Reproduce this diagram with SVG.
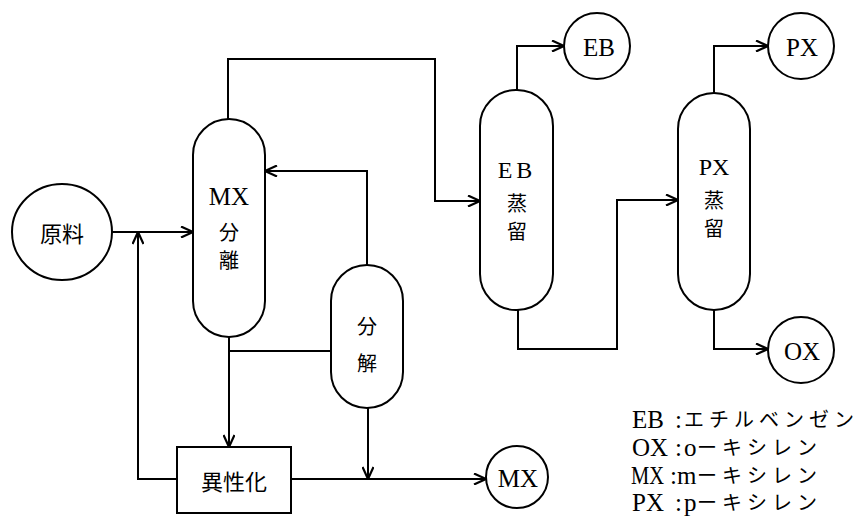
<svg xmlns="http://www.w3.org/2000/svg" width="863" height="529" viewBox="0 0 863 529">
<defs>
<style>
.sh{fill:#fff;stroke:#000;stroke-width:2}
.ln{fill:none;stroke:#000;stroke-width:2}
.ar{marker-end:url(#ah)}
.lat{font-family:"Liberation Serif","Noto Sans CJK JP",serif;fill:#000;text-anchor:middle;dominant-baseline:central}
.jp{font-family:"Noto Sans CJK JP",sans-serif;fill:#000;text-anchor:middle;dominant-baseline:central}
.lg{font-family:"Liberation Serif","Noto Sans CJK JP",serif;font-size:25px;fill:#000}
.lk{font-family:"Noto Sans CJK JP",sans-serif;font-size:20px;fill:#000;letter-spacing:5px}
</style>
<marker id="ah" viewBox="0 0 14 12" refX="13" refY="6" markerWidth="14" markerHeight="12" markerUnits="userSpaceOnUse" orient="auto">
<path d="M1,0.5 L13,6 L1,11.5" fill="none" stroke="#000" stroke-width="2.2"/>
</marker>
</defs>
<rect width="863" height="529" fill="#fff"/>
<g id="connectors">
<path class="ln ar" d="M112,232 H193"/>
<path class="ln ar" d="M177,479 H138 V232"/>
<path class="ln ar" d="M228,119 V59 H435 V201 H480"/>
<path class="ln ar" d="M367,265 V171 H265"/>
<path class="ln ar" d="M229,337 V447"/>
<path class="ln" d="M331,351 H229"/>
<path class="ln ar" d="M291,479 H486"/>
<path class="ln ar" d="M368,408 V479"/>
<path class="ln ar" d="M517,90 V46 H564"/>
<path class="ln ar" d="M518,310 V349 H617 V200 H678"/>
<path class="ln ar" d="M714,93 V46 H768"/>
<path class="ln ar" d="M714,310 V349 H768"/>
</g>
<g id="feed">
<ellipse class="sh" cx="62" cy="232" rx="50" ry="48"/>
<text class="jp" x="62" y="232" font-size="22">原料</text>
</g>
<g id="mx-sep">
<rect class="sh" x="193" y="119" width="72" height="218" rx="36" ry="36"/>
<text class="lat" x="229" y="196" font-size="25">MX</text>
<text class="jp" x="229" y="231" font-size="20">分</text>
<text class="jp" x="229" y="259" font-size="20">離</text>
</g>
<g id="decomp">
<rect class="sh" x="331" y="265" width="72" height="143" rx="36" ry="36"/>
<text class="jp" x="367" y="325" font-size="20">分</text>
<text class="jp" x="367" y="362" font-size="20">解</text>
</g>
<g id="isom">
<rect class="sh" x="177" y="447" width="114" height="66"/>
<text class="jp" x="234" y="480" font-size="22">異性化</text>
</g>
<g id="eb-dist">
<rect class="sh" x="480" y="90" width="73" height="220" rx="36" ry="36"/>
<text class="lat" x="517" y="170" font-size="24" letter-spacing="4">EB</text>
<text class="jp" x="517" y="202" font-size="20">蒸</text>
<text class="jp" x="517" y="230" font-size="20">留</text>
</g>
<g id="px-dist">
<rect class="sh" x="678" y="93" width="72" height="217" rx="36" ry="36"/>
<text class="lat" x="714" y="167" font-size="24">PX</text>
<text class="jp" x="714" y="199" font-size="20">蒸</text>
<text class="jp" x="714" y="227" font-size="20">留</text>
</g>
<g id="eb">
<circle class="sh" cx="597" cy="46" r="33"/>
<text class="lat" x="599" y="47" font-size="25">EB</text>
</g>
<g id="px">
<circle class="sh" cx="801" cy="46" r="33"/>
<text class="lat" x="802" y="47" font-size="25">PX</text>
</g>
<g id="ox">
<circle class="sh" cx="801" cy="350" r="33"/>
<text class="lat" x="802" y="351" font-size="25">OX</text>
</g>
<g id="mx">
<circle class="sh" cx="517" cy="477" r="31"/>
<text class="lat" x="518" y="478" font-size="25">MX</text>
</g>
<g id="legend">
<text class="lg" x="632" y="428">EB</text><text class="lg" x="675" y="428">:</text><text class="lk" x="684" y="427">エチルベンゼン</text>
<text class="lg" x="632" y="456">OX</text><text class="lg" x="675" y="456">:</text><text class="lg" x="684" y="456">o</text><text class="lk" x="697" y="455">ーキシレン</text>
<text class="lg" x="631" y="484" textLength="33" lengthAdjust="spacingAndGlyphs">MX</text><text class="lg" x="670" y="484">:</text><text class="lg" x="677" y="484">m</text><text class="lk" x="697" y="483">ーキシレン</text>
<text class="lg" x="632" y="511">PX</text><text class="lg" x="675" y="511">:</text><text class="lg" x="684" y="511">p</text><text class="lk" x="697" y="510">ーキシレン</text>
</g>
</svg>
